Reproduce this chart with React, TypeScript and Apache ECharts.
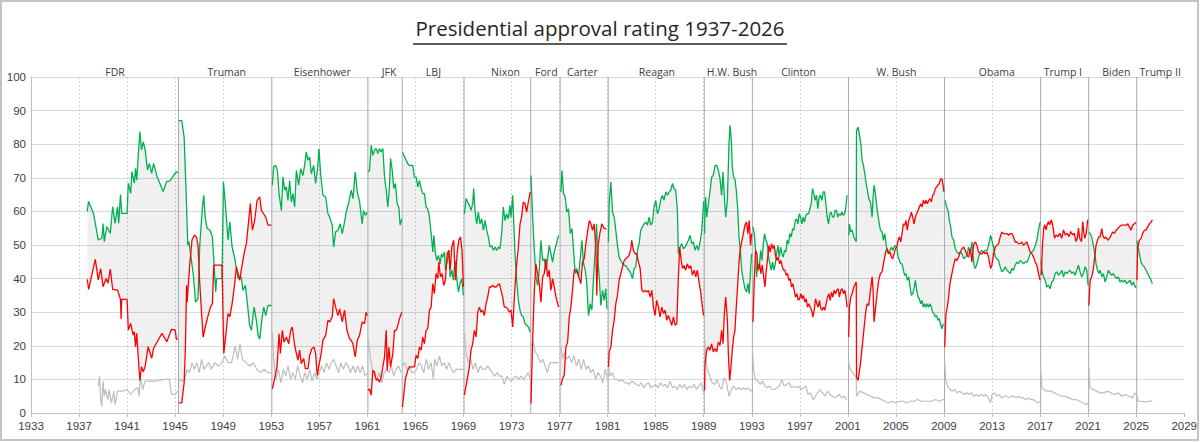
import React, { useEffect, useRef } from "react";
import * as echarts from "echarts";

const chartTitle = "Presidential approval rating 1937-2026";

const presidents = ["FDR", "Truman", "Eisenhower", "JFK", "LBJ", "Nixon", "Ford", "Carter", "Reagan", "H.W. Bush", "Clinton", "W. Bush", "Obama", "Trump I", "Biden", "Trump II"];
const presidentLabelYear = [1940.0, 1949.3, 1957.25, 1962.8, 1966.5, 1972.5, 1975.9, 1978.9, 1985.1, 1991.35, 1996.9, 2005.05, 2013.4, 2018.9, 2023.35, 2027.0];
const transitions = [1945.28, 1953.05, 1961.05, 1963.9, 1969.05, 1974.6, 1977.05, 1981.05, 1989.05, 1993.05, 2001.05, 2009.05, 2017.05, 2021.05, 2025.05];

const approve: number[][] = [
  // FDR
  [1937.68, 60], [1937.79, 63], [1938.2, 59.4], [1938.6, 51.5], [1938.9, 52], [1939.0, 56.4], [1939.1, 51], [1939.3, 55.5], [1939.6, 53.5], [1939.8, 61.4], [1940.0, 56.4], [1940.2, 61.4], [1940.3, 56.5], [1940.45, 65], [1940.55, 59.4], [1941.0, 59.4], [1941.1, 68.4], [1941.3, 65.4], [1941.4, 71.8], [1941.6, 68.4], [1941.7, 72.8], [1941.8, 69.3], [1942.06, 83.7], [1942.2, 78.3], [1942.35, 80.7], [1942.5, 78.3], [1942.7, 72.3], [1942.85, 74.3], [1943.05, 71.3], [1943.2, 74.3], [1943.5, 70.3], [1944.0, 65.9], [1944.3, 68.9], [1944.55, 69], [1944.8, 70.3], [1945.1, 71.8], [1945.25, 71.5],
  // Truman
  [1945.3, 87], [1945.55, 87], [1945.75, 82], [1945.9, 67], [1946.05, 50], [1946.15, 51], [1946.35, 45.5], [1946.5, 41.5], [1946.7, 33], [1946.9, 34], [1947.05, 50], [1947.27, 61.3], [1947.38, 64.8], [1947.5, 58.3], [1947.66, 54.9], [1947.9, 54.4], [1948.1, 52.4], [1948.3, 40.5], [1948.38, 36], [1948.44, 40], [1948.9, 40], [1949.02, 68.8], [1949.2, 61.3], [1949.4, 51.4], [1949.55, 56.8], [1949.74, 49.4], [1949.96, 46], [1950.24, 40], [1950.5, 40.5], [1950.65, 36.5], [1950.85, 38], [1951.07, 30.6], [1951.2, 26], [1951.35, 24.6], [1951.57, 31.5], [1951.76, 27.6], [1951.9, 23.1], [1952.04, 22], [1952.18, 26.6], [1952.37, 31.5], [1952.54, 29], [1952.73, 32], [1953.0, 32],
  // Eisenhower
  [1953.09, 67.8], [1953.2, 73.4], [1953.37, 73.7], [1953.51, 72.2], [1953.65, 65.3], [1953.84, 60.3], [1953.98, 70.2], [1954.12, 66.3], [1954.26, 67.3], [1954.39, 63.3], [1954.53, 69.2], [1954.67, 62.8], [1954.81, 65.3], [1954.95, 61.3], [1955.09, 72.2], [1955.28, 67.8], [1955.45, 72.7], [1955.64, 70.7], [1955.78, 73.7], [1955.92, 77.7], [1956.06, 75.2], [1956.2, 76.2], [1956.33, 71.2], [1956.53, 73.7], [1956.69, 68.3], [1956.86, 72.7], [1956.97, 78.7], [1957.11, 71.2], [1957.3, 64.8], [1957.53, 64.3], [1957.72, 59.3], [1957.86, 58.3], [1958.08, 55.9], [1958.19, 49.4], [1958.36, 53.9], [1958.55, 54.4], [1958.74, 56.3], [1958.91, 53.4], [1959.1, 56.8], [1959.24, 59.8], [1959.46, 62.8], [1959.66, 66.3], [1959.8, 63.8], [1959.99, 71.7], [1960.16, 65.8], [1960.35, 63], [1960.57, 56.3], [1960.68, 60.3], [1960.85, 58.8], [1960.96, 59.8],
  // JFK
  [1961.06, 71.7], [1961.18, 72.2], [1961.32, 79.7], [1961.46, 76.7], [1961.6, 78.2], [1961.74, 78.7], [1961.87, 77.2], [1962.01, 78.7], [1962.15, 77.7], [1962.29, 78.7], [1962.43, 70.2], [1962.57, 66.3], [1962.7, 61.3], [1962.84, 67.3], [1962.93, 75.7], [1963.07, 72.2], [1963.2, 66.8], [1963.34, 68.3], [1963.48, 62.3], [1963.62, 61.3], [1963.73, 55.9], [1963.87, 57.8],
  // LBJ
  [1963.92, 77.7], [1964.04, 76.7], [1964.23, 75.2], [1964.45, 73.7], [1964.78, 73.7], [1964.92, 70.2], [1965.06, 70.2], [1965.2, 67.3], [1965.34, 69.2], [1965.48, 66.8], [1965.61, 65.3], [1965.75, 65.3], [1965.89, 61.3], [1966.03, 60.8], [1966.17, 58.3], [1966.31, 53.4], [1966.45, 47.9], [1966.53, 52.9], [1966.67, 47.4], [1966.78, 45.4], [1966.92, 46.9], [1967.06, 44.4], [1967.17, 47.4], [1967.28, 46.4], [1967.42, 47.9], [1967.5, 42.5], [1967.64, 44.9], [1967.78, 48.4], [1967.89, 40.5], [1968.03, 42.5], [1968.16, 39.5], [1968.3, 45.4], [1968.44, 40], [1968.58, 36], [1968.72, 38.5], [1968.86, 40], [1969.0, 35],
  // Nixon
  [1969.08, 59.3], [1969.22, 63.8], [1969.35, 62.8], [1969.49, 61.8], [1969.63, 60.3], [1969.77, 62.3], [1969.85, 66.8], [1969.96, 60.3], [1970.1, 56.3], [1970.24, 59.8], [1970.38, 56.3], [1970.52, 57.8], [1970.66, 54.4], [1970.8, 57.3], [1970.93, 54.4], [1971.07, 52.4], [1971.21, 49.4], [1971.35, 49.9], [1971.49, 48.4], [1971.63, 49.4], [1971.77, 48.4], [1971.9, 49.4], [1972.04, 48.9], [1972.18, 53.4], [1972.32, 61.3], [1972.46, 57.3], [1972.6, 59.3], [1972.74, 57.8], [1972.87, 61.8], [1972.96, 58.3], [1973.1, 64.8], [1973.18, 57.3], [1973.29, 47.4], [1973.43, 39.5], [1973.57, 33.5], [1973.71, 30.6], [1973.84, 29], [1973.98, 28.6], [1974.12, 26.6], [1974.26, 26.1], [1974.4, 25.6], [1974.56, 24.1],
  // Ford
  [1974.62, 70.7], [1974.76, 58.3], [1974.9, 48.4], [1975.03, 40.5], [1975.17, 38], [1975.31, 42.5], [1975.45, 51.4], [1975.59, 45.4], [1975.73, 45.9], [1975.87, 42.5], [1976.0, 45.9], [1976.14, 49.9], [1976.28, 47.4], [1976.42, 44.9], [1976.56, 47.9], [1976.7, 49.9], [1976.92, 52.9],
  // Carter
  [1977.11, 65.8], [1977.2, 72.2], [1977.33, 65.3], [1977.47, 64.3], [1977.61, 59.8], [1977.75, 60.8], [1977.89, 53.4], [1978.03, 54.9], [1978.17, 48.4], [1978.3, 41.5], [1978.44, 43], [1978.58, 40.5], [1978.72, 45.9], [1978.86, 51.4], [1979.0, 44.4], [1979.14, 42.5], [1979.27, 38.5], [1979.41, 29], [1979.55, 32.5], [1979.69, 30.6], [1979.83, 40.5], [1979.97, 48.4], [1980.08, 56.3], [1980.19, 45.4], [1980.3, 40.5], [1980.44, 32], [1980.58, 36.5], [1980.71, 33.5], [1980.85, 37], [1980.94, 31],
  // Reagan
  [1981.07, 51], [1981.13, 62.3], [1981.27, 68.8], [1981.41, 59.8], [1981.55, 58.3], [1981.68, 54.4], [1981.82, 49.9], [1981.96, 46.4], [1982.1, 45.4], [1982.24, 44.4], [1982.38, 43.9], [1982.52, 43.9], [1982.65, 43], [1982.79, 42.5], [1982.93, 41.5], [1983.07, 40], [1983.21, 43], [1983.35, 43.5], [1983.49, 48.4], [1983.62, 50.4], [1983.76, 54.4], [1983.9, 55.4], [1984.04, 56.3], [1984.18, 56.8], [1984.32, 55.9], [1984.46, 58.3], [1984.59, 55.9], [1984.73, 56.8], [1984.87, 61.3], [1985.01, 63.3], [1985.15, 59.3], [1985.29, 60.8], [1985.42, 63.3], [1985.56, 64.8], [1985.7, 63.3], [1985.84, 65.8], [1985.98, 64.8], [1986.12, 65.8], [1986.26, 66.3], [1986.4, 68.3], [1986.53, 66.8], [1986.67, 66.3], [1986.81, 60.3], [1986.89, 47.4], [1987.03, 49.4], [1987.17, 50.4], [1987.31, 48.9], [1987.45, 49.4], [1987.59, 50.4], [1987.72, 51.4], [1987.86, 52.9], [1988.0, 50.4], [1988.14, 50.9], [1988.28, 48.4], [1988.42, 49.9], [1988.56, 48.4], [1988.7, 50.9], [1988.83, 53.9], [1989.0, 63],
  // H.W. Bush
  [1989.07, 53.4], [1989.11, 61.3], [1989.16, 64.3], [1989.25, 58.3], [1989.39, 62.3], [1989.52, 65.8], [1989.66, 70.2], [1989.8, 70.7], [1989.94, 73.7], [1990.08, 73.7], [1990.22, 72.2], [1990.36, 69.7], [1990.49, 64.8], [1990.61, 71.7], [1990.72, 64.3], [1990.83, 58.3], [1990.97, 63.3], [1991.1, 79.7], [1991.19, 85.6], [1991.3, 81.2], [1991.38, 73.2], [1991.49, 70.2], [1991.6, 69.7], [1991.71, 66.3], [1991.82, 61.3], [1991.94, 52.4], [1992.05, 48.4], [1992.16, 42.5], [1992.3, 39.5], [1992.43, 37], [1992.57, 36], [1992.68, 38.5], [1992.79, 35.5], [1992.9, 42.5], [1992.99, 47.4],
  // Clinton
  [1993.1, 55.4], [1993.21, 53.4], [1993.32, 48.4], [1993.4, 40.5], [1993.51, 44.4], [1993.62, 43], [1993.74, 48.4], [1993.85, 45.4], [1993.96, 50.4], [1994.07, 53.4], [1994.18, 51.4], [1994.29, 50.4], [1994.4, 46.4], [1994.51, 44.4], [1994.62, 42.5], [1994.73, 44.9], [1994.84, 42.5], [1994.96, 44.4], [1995.07, 47.4], [1995.18, 49.9], [1995.29, 46.4], [1995.4, 49.4], [1995.51, 47.4], [1995.62, 46.4], [1995.73, 48.4], [1995.84, 47.9], [1995.95, 51.4], [1996.06, 50.4], [1996.17, 53.4], [1996.29, 52.4], [1996.4, 54.9], [1996.51, 54.4], [1996.62, 57.3], [1996.73, 57.8], [1996.84, 56.3], [1996.95, 59.3], [1997.06, 58.3], [1997.17, 56.3], [1997.28, 58.3], [1997.39, 56.8], [1997.5, 58.8], [1997.62, 59.3], [1997.73, 59.3], [1997.84, 60.8], [1997.95, 62.3], [1998.06, 66.8], [1998.17, 65.3], [1998.28, 63.3], [1998.39, 64.8], [1998.5, 60.8], [1998.61, 64.3], [1998.72, 64.8], [1998.83, 63.3], [1998.95, 65.8], [1999.06, 65.8], [1999.17, 62.3], [1999.28, 58.3], [1999.39, 56.3], [1999.5, 59.3], [1999.61, 59.8], [1999.72, 58.3], [1999.83, 58.3], [1999.94, 60.3], [2000.05, 60.3], [2000.16, 58.3], [2000.28, 59.3], [2000.39, 58.8], [2000.5, 59.8], [2000.61, 58.8], [2000.72, 59.3], [2000.83, 61.3], [2000.94, 64.8],
  // W. Bush
  [2001.07, 52.9], [2001.13, 56.3], [2001.24, 53.9], [2001.36, 54.4], [2001.5, 52.4], [2001.63, 51.4], [2001.7, 51], [2001.72, 84.1], [2001.85, 85.1], [2001.97, 82.6], [2002.08, 80.2], [2002.19, 75.2], [2002.3, 73.7], [2002.41, 71.2], [2002.52, 68.3], [2002.63, 66.3], [2002.74, 63.8], [2002.88, 62.8], [2003.02, 58.3], [2003.1, 64.3], [2003.18, 67.8], [2003.29, 65.3], [2003.43, 60.8], [2003.57, 57.3], [2003.71, 54.4], [2003.85, 53.9], [2003.96, 51.4], [2004.07, 53.4], [2004.18, 50.4], [2004.29, 47.9], [2004.4, 47.4], [2004.51, 48.4], [2004.62, 49.4], [2004.74, 48.4], [2004.85, 49.4], [2004.96, 49.9], [2005.07, 49.4], [2005.18, 46.4], [2005.29, 45.4], [2005.4, 44.4], [2005.51, 44.4], [2005.62, 42.5], [2005.73, 41], [2005.84, 41.5], [2005.95, 39.5], [2006.07, 40.5], [2006.18, 37.5], [2006.29, 35], [2006.4, 35.5], [2006.51, 37], [2006.62, 39.5], [2006.73, 36.5], [2006.84, 34.5], [2006.95, 34], [2007.06, 32.5], [2007.17, 33.5], [2007.28, 31.5], [2007.4, 32.5], [2007.51, 31.5], [2007.62, 32.5], [2007.73, 31.5], [2007.84, 32.5], [2007.95, 31.5], [2008.06, 30], [2008.17, 29.6], [2008.28, 28.6], [2008.39, 29], [2008.5, 27.6], [2008.61, 28.1], [2008.73, 26.1], [2008.84, 25.1], [2008.95, 26.6],
  // Obama
  [2009.11, 63.3], [2009.22, 61.3], [2009.34, 60.3], [2009.45, 57.3], [2009.56, 55.4], [2009.67, 52.4], [2009.81, 51.4], [2009.94, 48.9], [2010.08, 47.9], [2010.22, 47.4], [2010.36, 47.9], [2010.5, 47.4], [2010.64, 45.9], [2010.78, 46.4], [2010.91, 46.9], [2011.05, 49.4], [2011.19, 47.4], [2011.33, 50.9], [2011.41, 47.4], [2011.5, 44], [2011.61, 43], [2011.75, 44.4], [2011.88, 46.4], [2012.02, 47.9], [2012.16, 48.4], [2012.3, 47.9], [2012.44, 48.4], [2012.58, 48.4], [2012.71, 49.9], [2012.88, 52.9], [2012.99, 51.4], [2013.13, 49.4], [2013.27, 46.4], [2013.41, 45.9], [2013.55, 45.4], [2013.68, 43.5], [2013.82, 42], [2013.96, 42.5], [2014.1, 43.5], [2014.24, 42.5], [2014.38, 42], [2014.52, 41.5], [2014.66, 43], [2014.79, 42.5], [2014.93, 44], [2015.07, 44.9], [2015.21, 44.4], [2015.35, 45.4], [2015.49, 44.9], [2015.62, 44.4], [2015.76, 44.9], [2015.9, 44.9], [2016.04, 45.9], [2016.18, 47.4], [2016.32, 47.9], [2016.46, 48.4], [2016.6, 49.9], [2016.73, 51.4], [2016.87, 54.4], [2017.01, 56.8],
  // Trump I
  [2017.08, 45.5], [2017.15, 42.5], [2017.29, 40.5], [2017.43, 39.5], [2017.56, 37.5], [2017.7, 38], [2017.84, 37], [2017.98, 39], [2018.12, 39.5], [2018.26, 41.5], [2018.4, 42], [2018.53, 41], [2018.67, 41.5], [2018.81, 42.5], [2018.95, 40.5], [2019.09, 42], [2019.23, 41.5], [2019.36, 42], [2019.5, 42.5], [2019.64, 41.5], [2019.78, 42], [2019.92, 41], [2020.06, 42.5], [2020.2, 44], [2020.33, 42], [2020.47, 40.5], [2020.61, 41.5], [2020.75, 43.5], [2020.89, 42.5], [2021.0, 38],
  // Biden
  [2021.06, 53.9], [2021.17, 53.4], [2021.3, 52.4], [2021.44, 49.9], [2021.58, 46.9], [2021.66, 44.4], [2021.78, 42.5], [2021.89, 41.5], [2022.0, 42.5], [2022.14, 40.5], [2022.27, 41.5], [2022.41, 39], [2022.55, 40.5], [2022.69, 42.5], [2022.83, 41.5], [2022.97, 41], [2023.11, 41.5], [2023.24, 40.5], [2023.38, 40], [2023.52, 40.5], [2023.66, 39], [2023.8, 39.5], [2023.94, 39], [2024.08, 39.5], [2024.21, 38.5], [2024.35, 39], [2024.49, 39.5], [2024.63, 38], [2024.77, 39], [2024.91, 37.5], [2025.0, 37.5],
  // Trump II
  [2025.06, 51.4], [2025.13, 49.9], [2025.27, 47.4], [2025.4, 44.9], [2025.54, 44], [2025.68, 43.5], [2025.82, 42.5], [2025.96, 41.5], [2026.1, 40.5], [2026.24, 39.5], [2026.35, 38.5],
];

const disapprove: number[][] = [
  // FDR
  [1937.68, 39.8], [1937.8, 36.8], [1938.35, 45.7], [1938.6, 39.6], [1938.8, 43], [1939.0, 37.6], [1939.25, 40], [1939.4, 38.6], [1939.6, 42.8], [1939.8, 36.8], [1940.2, 36.6], [1940.45, 33.8], [1940.5, 28], [1940.55, 33.8], [1941.0, 33.8], [1941.1, 24.7], [1941.3, 26.7], [1941.5, 23.2], [1941.6, 24.2], [1941.7, 19.7], [1941.8, 23.7], [1942.06, 9.6], [1942.2, 13.8], [1942.35, 12.3], [1942.5, 13.8], [1942.75, 19.7], [1943.05, 16.3], [1943.2, 19.2], [1943.9, 23.7], [1944.3, 21.2], [1944.7, 24.9], [1945.0, 24.7], [1945.1, 22], [1945.25, 22],
  // Truman
  [1945.3, 3], [1945.55, 3], [1945.75, 9], [1945.85, 19], [1945.95, 38], [1946.0, 33], [1946.2, 43.5], [1946.4, 51.5], [1946.6, 53], [1946.77, 52.4], [1946.9, 50], [1947.05, 38.5], [1947.2, 29.6], [1947.33, 22.6], [1947.47, 25], [1947.74, 29], [1947.94, 31.5], [1948.1, 32.5], [1948.22, 44], [1948.44, 44], [1948.9, 44], [1949.05, 17.7], [1949.2, 22.6], [1949.4, 29.6], [1949.55, 28.6], [1949.74, 32.5], [1949.96, 38.5], [1950.1, 43.5], [1950.38, 39.5], [1950.5, 42.5], [1950.79, 48.4], [1950.93, 50.4], [1951.15, 58.3], [1951.26, 62.3], [1951.43, 54.4], [1951.62, 57.3], [1951.82, 63.3], [1952.04, 64.3], [1952.18, 60.3], [1952.37, 59.3], [1952.54, 58.3], [1952.73, 55.9], [1953.0, 55.9],
  // Eisenhower
  [1953.09, 7.2], [1953.28, 10.2], [1953.48, 13.7], [1953.65, 23.6], [1953.76, 17.7], [1953.92, 24.6], [1954.06, 21.1], [1954.26, 22.6], [1954.45, 20.6], [1954.62, 24.6], [1954.75, 25.6], [1954.95, 20.1], [1955.09, 17.7], [1955.23, 15.7], [1955.36, 18.7], [1955.5, 14.7], [1955.7, 16.2], [1955.84, 13.2], [1956.06, 13.2], [1956.2, 17.2], [1956.39, 19.2], [1956.56, 19.6], [1956.69, 17.7], [1956.83, 11.2], [1956.97, 14.2], [1957.16, 17.7], [1957.3, 21.6], [1957.53, 23.1], [1957.72, 27.6], [1957.86, 27.1], [1958.08, 28.6], [1958.19, 34], [1958.36, 31.5], [1958.55, 29], [1958.69, 31], [1958.91, 27.1], [1959.1, 30.6], [1959.3, 24.6], [1959.52, 22.1], [1959.66, 21.6], [1959.8, 20.6], [1959.99, 16.7], [1960.16, 21.6], [1960.35, 23.1], [1960.57, 27.1], [1960.77, 26.6], [1960.9, 30], [1960.98, 29],
  // JFK
  [1961.06, 6.7], [1961.18, 7.2], [1961.32, 5.3], [1961.46, 12.7], [1961.6, 12.2], [1961.74, 9.7], [1961.87, 10.2], [1962.01, 9.2], [1962.15, 10.7], [1962.29, 13.7], [1962.43, 16.7], [1962.57, 24.6], [1962.65, 12.7], [1962.79, 19.6], [1962.93, 13.7], [1963.12, 17.7], [1963.26, 24.6], [1963.4, 24.6], [1963.54, 26.1], [1963.68, 28.1], [1963.87, 30],
  // LBJ
  [1963.92, 1.8], [1964.04, 5.8], [1964.17, 10.2], [1964.37, 12.7], [1964.51, 13.7], [1964.92, 13.7], [1965.06, 17.2], [1965.2, 16.2], [1965.34, 19.6], [1965.48, 18.7], [1965.61, 22.6], [1965.75, 20.6], [1965.89, 24.6], [1966.03, 25.1], [1966.17, 30.6], [1966.31, 31.5], [1966.45, 38.5], [1966.58, 35.5], [1966.72, 41.5], [1966.86, 40], [1966.95, 44.9], [1967.08, 40.5], [1967.22, 41.5], [1967.36, 38], [1967.5, 39.5], [1967.64, 47.4], [1967.78, 48.4], [1967.89, 42.5], [1968.03, 49.4], [1968.19, 51.4], [1968.33, 39.5], [1968.47, 47.4], [1968.61, 51.4], [1968.75, 52.4], [1968.88, 48.4], [1969.0, 37.5],
  // Nixon
  [1969.08, 5.3], [1969.22, 8.2], [1969.35, 10.7], [1969.49, 13.7], [1969.63, 18.7], [1969.77, 20.6], [1969.91, 24.6], [1970.05, 22.6], [1970.19, 30], [1970.33, 31.5], [1970.46, 30], [1970.6, 30.6], [1970.74, 29], [1970.88, 32.5], [1971.02, 34.5], [1971.16, 37.5], [1971.3, 37.5], [1971.43, 38], [1971.57, 37.5], [1971.71, 37.5], [1971.85, 38], [1971.99, 38.5], [1972.13, 36.5], [1972.26, 34.5], [1972.4, 31.5], [1972.54, 31.5], [1972.68, 31], [1972.82, 30], [1972.96, 30.6], [1973.1, 25.6], [1973.18, 30.6], [1973.29, 37.5], [1973.43, 44.4], [1973.57, 49.4], [1973.71, 56.3], [1973.84, 58.3], [1973.98, 62.8], [1974.12, 62.3], [1974.26, 59.8], [1974.4, 62.8], [1974.56, 65.8],
  // Ford
  [1974.62, 2.8], [1974.76, 21.6], [1974.9, 36.5], [1975.03, 44.4], [1975.17, 41.5], [1975.31, 38.5], [1975.45, 33], [1975.59, 40.5], [1975.73, 41.5], [1975.87, 45.9], [1976.0, 40.5], [1976.14, 42.5], [1976.28, 36.5], [1976.42, 40], [1976.56, 37.5], [1976.7, 34.5], [1976.92, 31.5],
  // Carter
  [1977.11, 8.2], [1977.25, 10.2], [1977.39, 11.2], [1977.53, 19.6], [1977.67, 21.1], [1977.81, 28.6], [1977.94, 31.5], [1978.08, 36.5], [1978.22, 42.5], [1978.36, 42.5], [1978.5, 41.5], [1978.64, 40], [1978.77, 38.5], [1978.91, 44.9], [1979.05, 45.9], [1979.19, 50.4], [1979.33, 53.9], [1979.47, 57.3], [1979.61, 56.3], [1979.75, 54.4], [1979.88, 56.3], [1980.02, 49.4], [1980.1, 35], [1980.21, 49.9], [1980.35, 53.4], [1980.52, 56.3], [1980.71, 54.9], [1980.91, 54.9],
  // Reagan
  [1981.07, 13.7], [1981.13, 18.2], [1981.27, 19.6], [1981.41, 24.6], [1981.55, 27.6], [1981.68, 32.5], [1981.82, 35], [1981.96, 39.5], [1982.1, 41.5], [1982.24, 43.5], [1982.38, 45.4], [1982.52, 45.9], [1982.65, 46.4], [1982.79, 46.9], [1982.93, 48.9], [1983.01, 51.4], [1983.15, 48.4], [1983.29, 47.4], [1983.43, 47.4], [1983.57, 44.9], [1983.71, 43], [1983.85, 36.5], [1983.98, 36], [1984.12, 36.5], [1984.26, 36], [1984.4, 36.5], [1984.54, 34.5], [1984.68, 36.5], [1984.82, 31.5], [1984.95, 29], [1985.09, 33.5], [1985.23, 31.5], [1985.37, 28.6], [1985.51, 31.5], [1985.65, 29.6], [1985.79, 30.6], [1985.92, 27.6], [1986.06, 29], [1986.2, 27.6], [1986.34, 26.1], [1986.48, 28.6], [1986.62, 26.1], [1986.76, 26.6], [1986.87, 38.5], [1987.0, 49.4], [1987.09, 46.4], [1987.23, 43], [1987.36, 43.9], [1987.5, 42.5], [1987.64, 44.4], [1987.78, 43], [1987.92, 43.9], [1988.06, 41], [1988.2, 42.5], [1988.34, 40.5], [1988.47, 42.5], [1988.61, 39], [1988.75, 36], [1988.89, 31.5], [1989.0, 29],
  // H.W. Bush
  [1989.07, 6.7], [1989.11, 14.7], [1989.25, 18.7], [1989.39, 19.6], [1989.52, 18.7], [1989.66, 20.6], [1989.8, 18.2], [1989.94, 19.2], [1990.08, 18.2], [1990.22, 21.1], [1990.36, 20.1], [1990.49, 24.6], [1990.61, 20.6], [1990.72, 29.6], [1990.83, 34.5], [1990.97, 27.6], [1991.05, 17.7], [1991.16, 9.7], [1991.27, 13.7], [1991.38, 18.7], [1991.49, 22.6], [1991.6, 24.6], [1991.71, 31.5], [1991.82, 37.5], [1991.94, 44.9], [1992.05, 48.9], [1992.16, 50.9], [1992.3, 53.4], [1992.43, 55.9], [1992.57, 56.8], [1992.68, 53.4], [1992.79, 57.3], [1992.9, 49.9], [1992.99, 53.4],
  // Clinton
  [1993.1, 27.1], [1993.21, 39.5], [1993.32, 48.4], [1993.43, 47.4], [1993.54, 42.5], [1993.65, 44.4], [1993.76, 41.5], [1993.87, 44], [1993.99, 40.5], [1994.1, 37.5], [1994.21, 42.5], [1994.32, 45.9], [1994.43, 49.9], [1994.54, 47.9], [1994.65, 50.4], [1994.76, 48.9], [1994.87, 49.9], [1994.98, 46.9], [1995.09, 45.4], [1995.2, 46.4], [1995.32, 44.4], [1995.43, 45.4], [1995.54, 43.5], [1995.65, 42.5], [1995.76, 42.5], [1995.87, 41], [1995.98, 41.5], [1996.09, 39.5], [1996.2, 40], [1996.31, 37.5], [1996.42, 38.5], [1996.53, 36.5], [1996.65, 34.5], [1996.76, 35.5], [1996.87, 33.5], [1996.98, 34], [1997.09, 35.5], [1997.2, 34], [1997.31, 35], [1997.42, 33], [1997.53, 34], [1997.64, 31.5], [1997.75, 32.5], [1997.86, 31.5], [1997.98, 30.6], [1998.09, 28.6], [1998.2, 30.6], [1998.31, 34], [1998.42, 32.5], [1998.53, 31.5], [1998.64, 33.5], [1998.75, 31], [1998.86, 30.6], [1998.97, 31.5], [1999.08, 30.6], [1999.19, 32.5], [1999.31, 34.5], [1999.42, 35.5], [1999.53, 33.5], [1999.64, 36], [1999.75, 34.5], [1999.86, 36.5], [1999.97, 35.5], [2000.08, 36.5], [2000.19, 37], [2000.3, 34.5], [2000.41, 36.5], [2000.53, 37], [2000.64, 35.5], [2000.75, 36.5], [2000.86, 34], [2000.94, 31.5],
  // W. Bush
  [2001.07, 22.6], [2001.13, 31.5], [2001.24, 34.5], [2001.36, 35.5], [2001.5, 37.5], [2001.63, 38.5], [2001.7, 39], [2001.72, 10.7], [2001.85, 9.7], [2002.05, 14.7], [2002.19, 19.6], [2002.33, 24.6], [2002.47, 29.6], [2002.6, 32.5], [2002.74, 32], [2002.88, 36.5], [2003.02, 40.5], [2003.1, 36.5], [2003.18, 27.1], [2003.29, 30.6], [2003.43, 35.5], [2003.57, 39.5], [2003.71, 41.5], [2003.85, 42], [2003.96, 44.4], [2004.07, 46.4], [2004.18, 48.4], [2004.29, 48.9], [2004.4, 47.4], [2004.51, 47.9], [2004.62, 46.4], [2004.74, 45.9], [2004.85, 47.4], [2004.96, 48.9], [2005.07, 49.4], [2005.18, 51.4], [2005.29, 52.4], [2005.4, 50.9], [2005.51, 53.4], [2005.62, 56.3], [2005.73, 55.9], [2005.84, 57.3], [2005.95, 54.4], [2006.07, 57.3], [2006.18, 58.3], [2006.29, 59.8], [2006.4, 58.3], [2006.51, 56.3], [2006.62, 58.3], [2006.73, 59.3], [2006.84, 60.3], [2006.95, 61.3], [2007.06, 62.3], [2007.17, 61.3], [2007.28, 63.3], [2007.4, 62.3], [2007.51, 63.3], [2007.62, 62.3], [2007.73, 63.3], [2007.84, 63.8], [2007.95, 62.8], [2008.06, 64.8], [2008.17, 65.3], [2008.28, 66.8], [2008.39, 67.3], [2008.5, 67.8], [2008.61, 68.3], [2008.73, 69.7], [2008.84, 69.7], [2008.95, 67.3], [2009.0, 65.8],
  // Obama
  [2009.06, 19.6], [2009.17, 29.6], [2009.28, 31.5], [2009.39, 34.5], [2009.5, 38.5], [2009.61, 40.5], [2009.72, 42.5], [2009.83, 44.4], [2009.94, 45.9], [2010.08, 45.4], [2010.22, 46.4], [2010.36, 47.9], [2010.5, 48.9], [2010.64, 49.4], [2010.78, 48.4], [2010.91, 46.9], [2011.05, 46.4], [2011.19, 48.9], [2011.33, 44.9], [2011.41, 48.4], [2011.5, 50.4], [2011.61, 50.9], [2011.75, 49.9], [2011.88, 47.9], [2012.02, 47.4], [2012.16, 47.4], [2012.3, 47.9], [2012.44, 47.4], [2012.58, 47.9], [2012.71, 46.4], [2012.88, 43], [2012.99, 44], [2013.13, 47.4], [2013.27, 49.4], [2013.41, 49.9], [2013.55, 50.4], [2013.68, 52.4], [2013.82, 53.9], [2013.96, 53.4], [2014.1, 53.4], [2014.24, 53.4], [2014.38, 52.9], [2014.52, 53.4], [2014.66, 53.4], [2014.79, 52.4], [2014.93, 50.9], [2015.07, 50.9], [2015.21, 50.4], [2015.35, 50.4], [2015.49, 50.9], [2015.62, 49.9], [2015.76, 50.4], [2015.9, 50.9], [2016.04, 49.4], [2016.18, 47.9], [2016.32, 47.4], [2016.46, 46.4], [2016.6, 44.9], [2016.73, 44], [2016.87, 41.5], [2017.01, 39.5],
  // Trump I
  [2017.1, 41], [2017.2, 50], [2017.3, 55], [2017.4, 56], [2017.5, 54.5], [2017.6, 56], [2017.7, 57], [2017.8, 56], [2017.95, 57.5], [2018.1, 55], [2018.2, 52], [2018.35, 53], [2018.5, 52.5], [2018.65, 53.5], [2018.8, 52], [2018.95, 54.5], [2019.1, 53], [2019.25, 53.5], [2019.4, 52.5], [2019.55, 54], [2019.7, 53], [2019.85, 53.5], [2020.0, 51], [2020.1, 52], [2020.2, 55], [2020.3, 52], [2020.45, 51], [2020.55, 57], [2020.7, 52], [2020.85, 53.5], [2020.97, 57.5],
  // Biden
  [2021.06, 32], [2021.17, 39.5], [2021.3, 40.5], [2021.44, 43], [2021.58, 47.4], [2021.66, 49.9], [2021.78, 51.4], [2021.89, 52.4], [2022.0, 52.4], [2022.14, 54.9], [2022.22, 52.9], [2022.36, 51.9], [2022.5, 52.4], [2022.63, 51.4], [2022.77, 51.9], [2022.91, 52.9], [2023.05, 53.9], [2023.19, 53.4], [2023.33, 54.4], [2023.47, 54.9], [2023.6, 55.4], [2023.74, 55.9], [2023.88, 55.9], [2024.02, 55.9], [2024.16, 55.9], [2024.3, 56.3], [2024.44, 55.4], [2024.57, 54.4], [2024.71, 55.9], [2024.85, 56.3], [2025.0, 56.8],
  // Trump II
  [2025.06, 39.5], [2025.13, 49.4], [2025.27, 51.4], [2025.4, 51.9], [2025.54, 53.4], [2025.68, 54.4], [2025.82, 54.4], [2025.96, 55.4], [2026.1, 56.3], [2026.24, 56.8], [2026.35, 57.5],
];

const noOpinion: number[][] = [
  // FDR
  [1938.6, 8], [1938.7, 11], [1938.8, 4], [1938.9, 2], [1939.0, 9.5], [1939.1, 5], [1939.2, 7], [1939.4, 4], [1939.5, 7], [1939.7, 3], [1939.9, 6.5], [1940.0, 2.5], [1940.2, 6.5], [1940.4, 6.5], [1940.6, 6.5], [1941.0, 7], [1941.3, 5.5], [1941.6, 7], [1941.9, 7.5], [1942.0, 5], [1942.1, 10.5], [1942.3, 7], [1942.5, 9.5], [1943.0, 9.5], [1943.5, 9.5], [1944.0, 10], [1944.5, 10], [1944.7, 5.5], [1945.0, 5.5], [1945.2, 6.5],
  // Truman
  [1945.3, 10], [1945.6, 9.5], [1945.8, 10], [1946.0, 13], [1946.2, 12], [1946.4, 15], [1946.6, 13], [1946.8, 15], [1947.0, 12], [1947.2, 16], [1947.4, 13], [1947.6, 14], [1947.8, 15], [1948.0, 13], [1948.3, 15], [1948.6, 14], [1948.9, 15], [1949.1, 17], [1949.4, 15], [1949.7, 15], [1950.0, 20], [1950.2, 16], [1950.4, 20.5], [1950.6, 16], [1950.9, 15], [1951.2, 14], [1951.5, 15], [1951.8, 13], [1952.1, 12], [1952.4, 13], [1952.7, 12], [1953.0, 12],
  // Eisenhower
  [1953.09, 24], [1953.2, 16], [1953.4, 10], [1953.6, 13], [1953.8, 9], [1954.0, 13], [1954.2, 11], [1954.4, 14], [1954.6, 10], [1954.8, 12], [1955.0, 10], [1955.2, 14], [1955.4, 11], [1955.6, 9], [1955.8, 12], [1956.0, 10], [1956.2, 13], [1956.4, 9.5], [1956.6, 12], [1956.8, 10], [1957.0, 12], [1957.2, 14], [1957.4, 12], [1957.6, 15], [1957.8, 13], [1958.0, 15], [1958.2, 16], [1958.4, 14], [1958.6, 12], [1958.8, 15], [1959.0, 13], [1959.2, 15], [1959.4, 14], [1959.6, 12], [1959.8, 14], [1960.0, 12], [1960.2, 14], [1960.4, 12], [1960.6, 14], [1960.8, 11], [1961.0, 12],
  // JFK
  [1961.06, 22], [1961.2, 18], [1961.4, 13], [1961.6, 11], [1961.8, 10], [1962.0, 12], [1962.2, 9], [1962.4, 12], [1962.6, 13], [1962.8, 12], [1963.0, 14], [1963.2, 11], [1963.4, 13], [1963.6, 14], [1963.8, 12],
  // LBJ
  [1963.92, 14], [1964.1, 15], [1964.3, 13], [1964.5, 14], [1964.7, 12], [1964.9, 12], [1965.1, 13], [1965.3, 15], [1965.5, 14], [1965.7, 12], [1965.9, 16], [1966.1, 13], [1966.3, 15], [1966.5, 10], [1966.6, 16], [1966.8, 14], [1967.0, 17], [1967.2, 14], [1967.4, 15], [1967.6, 13], [1967.8, 15], [1968.0, 13], [1968.2, 12], [1968.4, 13], [1968.6, 13], [1968.8, 13], [1969.0, 13],
  // Nixon
  [1969.08, 24], [1969.2, 18], [1969.4, 15], [1969.6, 16], [1969.8, 13], [1970.0, 15], [1970.2, 12], [1970.4, 14], [1970.6, 13], [1970.8, 13], [1971.0, 14], [1971.2, 13], [1971.4, 12], [1971.6, 11], [1971.8, 12], [1972.0, 11], [1972.2, 11], [1972.4, 8.5], [1972.6, 11], [1972.8, 10], [1973.0, 9.5], [1973.2, 10.5], [1973.4, 11], [1973.6, 10], [1973.8, 11], [1974.0, 10], [1974.2, 11], [1974.4, 12], [1974.55, 10],
  // Ford
  [1974.62, 20], [1974.8, 21], [1975.0, 18], [1975.2, 17], [1975.4, 15], [1975.6, 16], [1975.8, 14], [1976.0, 12], [1976.2, 15], [1976.5, 15], [1976.9, 15],
  // Carter
  [1977.11, 20], [1977.25, 16], [1977.4, 18], [1977.6, 16], [1977.8, 17], [1978.0, 15], [1978.2, 17], [1978.4, 14], [1978.6, 16], [1978.8, 13], [1979.0, 16], [1979.2, 13], [1979.4, 14], [1979.6, 12], [1979.8, 13], [1980.0, 10], [1980.2, 12], [1980.4, 11], [1980.6, 9], [1980.8, 13], [1981.0, 10],
  // Reagan
  [1981.07, 14], [1981.2, 11], [1981.4, 12], [1981.6, 10], [1981.8, 10], [1982.0, 9.5], [1982.2, 10], [1982.4, 9], [1982.6, 9], [1982.8, 8.5], [1983.0, 9.5], [1983.2, 9], [1983.4, 8.5], [1983.6, 8], [1983.8, 9], [1984.0, 7.5], [1984.2, 8.5], [1984.4, 9], [1984.6, 7.5], [1984.8, 8], [1985.0, 8.5], [1985.2, 7.5], [1985.4, 9], [1985.6, 8], [1985.8, 8.5], [1986.0, 7.5], [1986.2, 9.5], [1986.4, 7.5], [1986.6, 8], [1986.8, 7], [1987.0, 8.5], [1987.2, 7.5], [1987.4, 8.5], [1987.6, 7], [1987.8, 8], [1988.0, 7.5], [1988.2, 8.5], [1988.4, 7], [1988.6, 8], [1988.8, 9], [1989.0, 6],
  // H.W. Bush
  [1989.07, 22], [1989.15, 17], [1989.3, 13], [1989.5, 11], [1989.7, 9], [1989.9, 8.5], [1990.1, 10], [1990.3, 8], [1990.5, 7], [1990.7, 10.5], [1990.9, 9], [1991.1, 5], [1991.3, 7], [1991.5, 8], [1991.7, 7], [1991.9, 7.5], [1992.1, 7], [1992.3, 7.5], [1992.5, 7], [1992.7, 7.5], [1992.9, 6.5], [1993.0, 7],
  // Clinton
  [1993.07, 18], [1993.15, 13], [1993.3, 10], [1993.5, 9.5], [1993.7, 8.5], [1993.9, 9.5], [1994.1, 8], [1994.3, 7.5], [1994.5, 8], [1994.7, 7], [1994.9, 7], [1995.1, 7.5], [1995.3, 8], [1995.5, 10], [1995.7, 8], [1995.9, 8.5], [1996.1, 9], [1996.3, 7.5], [1996.5, 8], [1996.7, 7.5], [1996.9, 8], [1997.1, 7], [1997.3, 7.5], [1997.5, 8], [1997.7, 5.5], [1997.9, 6], [1998.1, 4], [1998.3, 5], [1998.5, 6], [1998.7, 7], [1998.9, 6], [1999.1, 5], [1999.3, 6.5], [1999.5, 5.5], [1999.7, 5], [1999.9, 4.5], [2000.1, 5], [2000.3, 5.5], [2000.5, 4.5], [2000.7, 5], [2000.9, 4],
  // W. Bush
  [2001.07, 15], [2001.2, 13], [2001.4, 12], [2001.6, 11], [2001.7, 10.5], [2001.72, 5], [2002.0, 6.5], [2002.3, 6], [2002.6, 5.5], [2002.9, 5], [2003.2, 4.5], [2003.5, 4.5], [2003.8, 4], [2004.1, 3.5], [2004.4, 3], [2004.7, 3.5], [2005.0, 3], [2005.3, 3.5], [2005.6, 3.5], [2005.9, 3], [2006.2, 3.5], [2006.5, 3.5], [2006.8, 4], [2007.1, 3.5], [2007.4, 3.5], [2007.7, 3.5], [2008.0, 3.5], [2008.3, 4], [2008.6, 3.5], [2008.9, 4], [2009.0, 4],
  // Obama
  [2009.07, 15], [2009.15, 10], [2009.3, 8], [2009.5, 7], [2009.7, 6.5], [2009.9, 7], [2010.1, 6], [2010.3, 6.5], [2010.5, 6], [2010.7, 5.5], [2010.9, 6], [2011.1, 5.5], [2011.3, 6], [2011.5, 5], [2011.7, 5.5], [2011.9, 5], [2012.1, 5.5], [2012.3, 5], [2012.5, 5.5], [2012.7, 4.5], [2012.88, 3], [2013.0, 5.5], [2013.2, 6], [2013.4, 5], [2013.6, 5.5], [2013.8, 4.5], [2014.0, 5], [2014.2, 5], [2014.4, 4.5], [2014.6, 5], [2014.8, 5], [2015.0, 4.5], [2015.2, 5], [2015.4, 4.5], [2015.6, 4.5], [2015.8, 4], [2016.0, 4.5], [2016.2, 4], [2016.4, 4], [2016.6, 3.5], [2016.8, 3], [2017.0, 3.5],
  // Trump I
  [2017.07, 12.5], [2017.15, 7.5], [2017.3, 7], [2017.6, 6.5], [2017.9, 6.5], [2018.2, 6], [2018.5, 5.5], [2018.8, 5], [2019.1, 5], [2019.4, 4.5], [2019.7, 4], [2020.0, 4], [2020.3, 3.5], [2020.6, 3], [2020.9, 2.5], [2021.0, 3],
  // Biden
  [2021.06, 13.5], [2021.15, 7.5], [2021.4, 7], [2021.7, 6.5], [2022.0, 6], [2022.3, 6], [2022.6, 6.5], [2022.9, 6], [2023.2, 5.5], [2023.5, 6], [2023.8, 5], [2024.1, 5.5], [2024.4, 5], [2024.7, 4.5], [2024.9, 6], [2025.0, 5.5],
  // Trump II
  [2025.06, 5], [2025.15, 3.5], [2025.5, 3.5], [2025.8, 3.3], [2026.1, 3.5], [2026.35, 3.7],
];

function splitByTerm(data: number[][]): number[][][] {
  const segs: number[][][] = presidents.map(() => []);
  for (const p of data) {
    let idx = 0;
    for (const t of transitions) if (p[0] >= t) idx++;
    segs[idx].push(p);
  }
  return segs;
}

export default function App() {
  const ref = useRef<HTMLDivElement>(null);
  useEffect(() => {
    document.body.style.margin = "0";
    if (!ref.current) return;
    const chart = echarts.init(ref.current, undefined, { renderer: "svg" });
    const aSegs = splitByTerm(approve);
    const dSegs = splitByTerm(disapprove);
    const nSegs = splitByTerm(noOpinion);

    const lineSeries = (segs: number[][][], color: string, z: number, width: number) =>
      segs.map((seg) => ({
        type: "line",
        data: seg,
        symbol: "none",
        showSymbol: false,
        silent: true,
        z,
        lineStyle: { color, width },
        emphasis: { disabled: true },
      }));

    const option: any = {
      animation: false,
      backgroundColor: "#ffffff",
      grid: { left: 31, right: 14, top: 77, bottom: 29, containLabel: false },
      xAxis: {
        type: "value",
        min: 1933,
        max: 2029,
        interval: 4,
        axisLine: { show: true, lineStyle: { color: "#bfbfbf", width: 1 } },
        axisTick: { show: true, length: 4, lineStyle: { color: "#bfbfbf" } },
        axisLabel: { color: "#404040", fontFamily: "Liberation Sans", fontSize: 11.5, margin: 7, formatter: (v: number) => String(v) },
        splitLine: { show: true, showMaxLine: false, lineStyle: { color: "#d0d0d0", type: [2, 2], width: 1 } },
      },
      yAxis: {
        type: "value",
        min: 0,
        max: 100,
        interval: 10,
        axisLine: { show: true, lineStyle: { color: "#bfbfbf", width: 1 } },
        axisTick: { show: false },
        axisLabel: { color: "#404040", fontFamily: "Liberation Sans", fontSize: 11.5, margin: 5 },
        splitLine: { show: true, lineStyle: { color: "#d9d9d9", width: 1 } },
      },
      graphic: [
        { type: "rect", shape: { x: 1, y: 1, width: 1197, height: 439 }, style: { fill: "none", stroke: "#c4c4c4", lineWidth: 2 }, silent: true },
        {
          type: "text",
          x: 600,
          y: 28,
          style: { text: chartTitle, fill: "#262626", fontSize: 20.5, fontFamily: "Open Sans", align: "center", verticalAlign: "middle", textAlign: "center", textVerticalAlign: "middle" },
          silent: true,
        },
        { type: "line", shape: { x1: 413, y1: 44, x2: 787, y2: 44 }, style: { stroke: "#262626", lineWidth: 1.3 }, silent: true },
      ],
      series: [
        {
          type: "custom",
          silent: true,
          z: 1,
          data: aSegs.map((s, i) => [presidentLabelYear[i], 50]),
          encode: { x: 0, y: 1 },
          renderItem: (params: any, api: any) => {
            const a = aSegs[params.dataIndex];
            const d = dSegs[params.dataIndex];
            if (!a.length || !d.length) return null;
            const pts = a.map((p) => api.coord(p)).concat(d.slice().reverse().map((p) => api.coord(p)));
            return { type: "polygon", shape: { points: pts }, style: { fill: "rgba(0,0,0,0.06)", stroke: null } };
          },
        },
        {
          type: "custom",
          silent: true,
          z: 2,
          data: transitions.map((t) => [t, 0]),
          encode: { x: 0, y: 1 },
          renderItem: (params: any, api: any) => {
            const t = api.value(0);
            const p0 = api.coord([t, 0]);
            const p1 = api.coord([t, 100]);
            return { type: "line", shape: { x1: p0[0], y1: p0[1], x2: p1[0], y2: p1[1] }, style: { stroke: "#ababab", lineWidth: 1 } };
          },
        },
        {
          type: "custom",
          silent: true,
          z: 5,
          clip: false,
          data: presidentLabelYear.map((x) => [x, 100]),
          encode: { x: 0, y: 1 },
          renderItem: (params: any, api: any) => {
            const c = api.coord([api.value(0), 100]);
            return {
              type: "text",
              x: c[0],
              y: c[1] - 5.5,
              style: { text: presidents[params.dataIndex], fill: "#404040", fontSize: 10.5, fontFamily: "Open Sans", align: "center", verticalAlign: "middle", textAlign: "center", textVerticalAlign: "middle" },
            };
          },
        },
        ...lineSeries(nSegs, "#bdbdbd", 3, 1.2),
        ...lineSeries(aSegs, "#00b050", 4, 1.3),
        ...lineSeries(dSegs, "#ff0000", 4, 1.3),
      ],
    };
    chart.setOption(option);
    return () => chart.dispose();
  }, []);
  return <div ref={ref} style={{ width: 1200, height: 442 }} />;
}
